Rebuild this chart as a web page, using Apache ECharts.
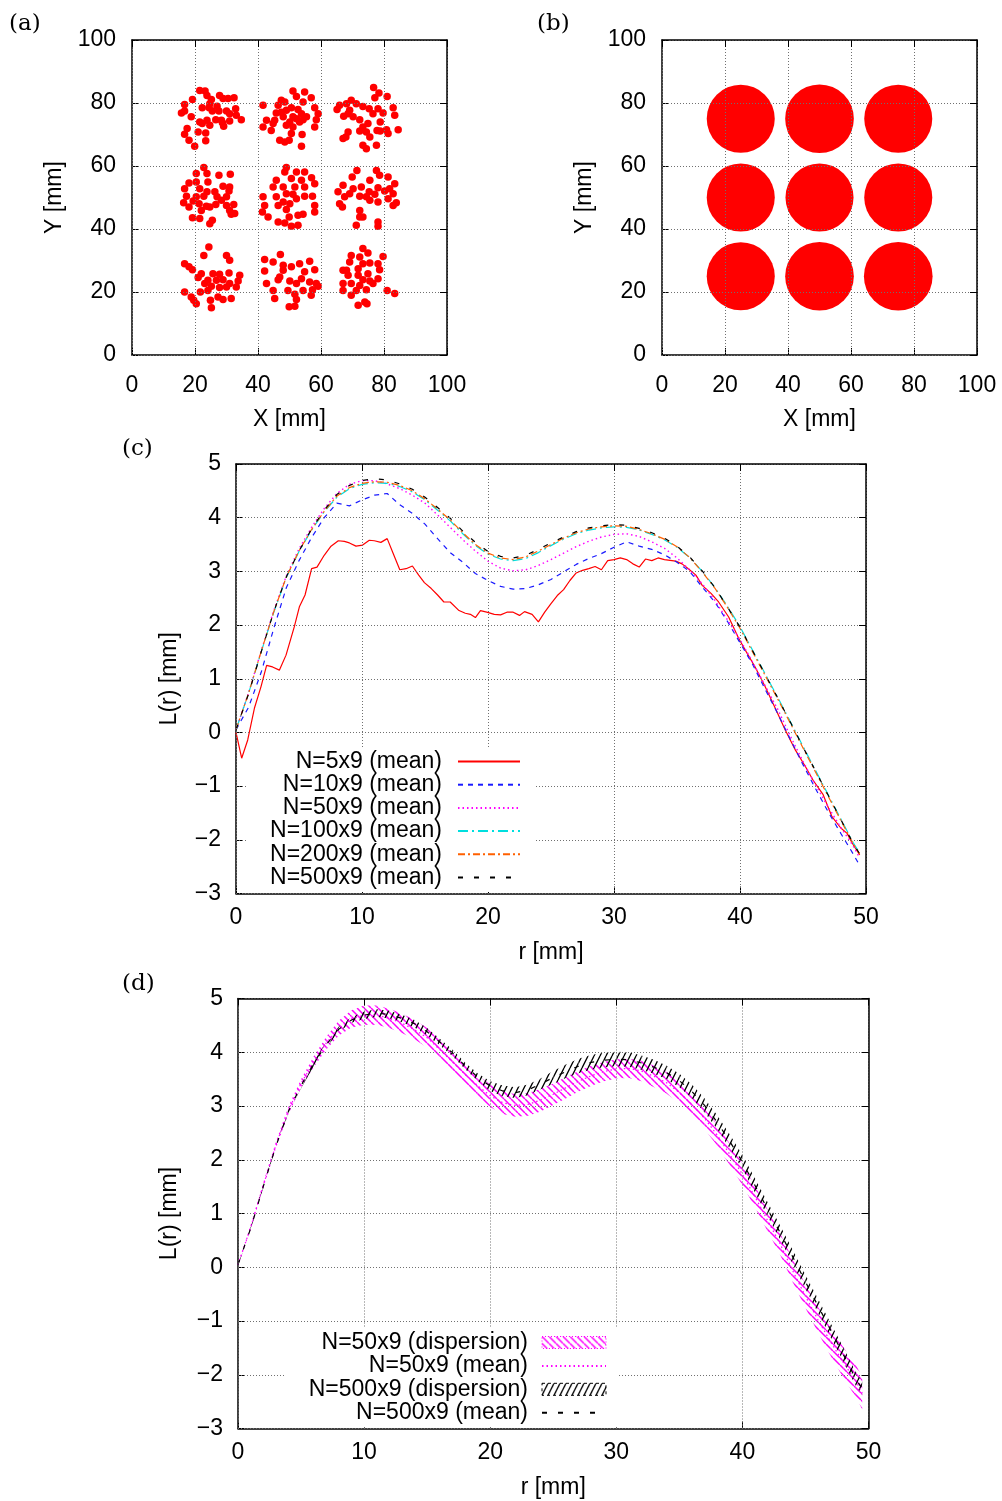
<!DOCTYPE html>
<html><head><meta charset="utf-8">
<script src="https://cdn.jsdelivr.net/npm/echarts@6/dist/echarts.min.js"></script>
<style>html,body{margin:0;padding:0;background:#fff}#c{width:1002px;height:1501px}</style>
</head><body><div id="c"></div>
<script>
// ---------- panel (a): N=50x9 points [x mm, y mm] ----------
const aTop = [[21.5,84.0],[23.2,83.8],[23.8,82.4],[19.2,81.1],[27.8,82.4],[28.9,81.4],[30.5,81.4],[32.4,81.7],[25.2,81.1],[24.7,79.8],[16.7,79.5],[22.3,78.5],[24.5,78.5],[27.0,79.0],[25.5,77.5],[15.7,76.8],[16.7,77.5],[18.8,75.6],[30.0,77.5],[32.9,78.2],[33.1,76.1],[21.5,74.0],[23.8,74.5],[26.6,74.7],[28.7,73.7],[31.0,74.3],[34.7,74.7],[29.1,72.6],[17.5,71.9],[22.3,73.5],[16.7,70.1],[21.0,70.8],[23.4,70.5],[18.1,68.2],[23.4,68.0],[19.9,66.3],[27.6,77.5],[31.0,76.6],[24.7,72.9],[28.4,74.5],
 [51.1,83.8],[54.8,83.5],[52.2,82.1],[56.9,81.7],[47.4,80.9],[48.5,80.3],[54.3,80.3],[41.6,79.3],[46.4,79.3],[58.0,78.5],[50.6,78.5],[52.7,77.9],[49.0,77.7],[45.8,76.8],[53.8,76.6],[59.1,76.6],[42.7,74.5],[45.3,74.5],[48.0,75.6],[51.1,75.6],[52.2,75.0],[54.3,74.7],[58.5,74.7],[53.2,74.0],[44.8,73.5],[50.1,74.0],[41.6,72.4],[51.1,72.4],[58.0,72.4],[44.2,71.3],[50.6,70.3],[54.0,70.0],[46.9,68.2],[48.5,67.6],[49.9,68.2],[53.8,66.3],[49.0,72.9],[55.4,75.6],[47.4,77.1],
 [76.7,84.9],[78.4,83.2],[77.1,81.7],[81.0,82.1],[69.6,80.9],[71.2,79.8],[65.9,79.3],[68.1,79.8],[73.3,78.9],[75.3,78.2],[78.1,78.2],[82.9,78.5],[65.1,77.9],[68.6,76.6],[67.2,75.8],[70.2,75.6],[76.5,76.6],[79.7,76.8],[83.4,76.1],[72.3,74.7],[74.9,73.5],[78.8,74.0],[73.3,72.4],[77.8,71.3],[78.8,71.1],[80.8,71.5],[84.5,71.5],[74.4,70.8],[68.6,70.8],[67.9,69.2],[67.0,68.7],[81.3,70.3],[75.5,69.2],[73.3,66.6],[74.4,65.5],[77.6,66.6],[72.3,71.1],[69.1,77.7]];
const aMid = [[22.8,59.5],[20.4,57.6],[23.8,57.6],[27.6,57.1],[31.2,57.4],[18.1,54.6],[20.4,54.9],[24.1,54.9],[28.9,53.6],[31.0,53.3],[16.7,52.8],[21.5,52.8],[23.8,51.8],[26.3,51.8],[17.3,50.4],[20.4,50.2],[22.8,50.4],[27.0,50.2],[30.0,50.2],[30.8,52.1],[16.4,48.3],[19.4,48.9],[21.3,48.0],[23.6,47.2],[24.7,47.0],[26.6,47.8],[30.0,47.5],[32.3,47.8],[18.1,47.0],[31.0,45.9],[31.5,44.7],[32.6,44.9],[19.2,43.6],[21.5,43.3],[25.5,42.8],[24.7,41.7],[28.4,49.1],[22.0,45.9],
 [49.0,59.5],[48.5,58.1],[52.2,58.1],[54.8,58.1],[45.8,55.5],[50.6,56.0],[53.8,55.5],[57.0,56.3],[58.0,54.4],[44.8,53.3],[48.0,53.3],[51.7,53.3],[54.8,53.3],[49.0,51.2],[51.1,51.0],[45.8,50.2],[54.8,50.4],[57.3,50.4],[41.6,50.2],[42.1,47.5],[48.0,48.6],[50.1,48.0],[49.0,46.2],[58.0,47.5],[58.0,45.4],[41.4,45.4],[43.2,43.8],[46.4,42.2],[48.5,41.9],[50.6,40.9],[52.7,41.2],[54.3,44.7],[52.7,44.4],[49.9,43.8],[52.2,49.6],[46.4,47.5],
 [71.4,58.6],[77.6,58.6],[78.6,57.1],[81.3,56.5],[69.9,56.5],[75.5,55.5],[67.0,53.9],[70.2,52.8],[72.8,53.3],[78.1,53.1],[81.8,52.8],[83.4,54.4],[65.4,51.8],[69.1,51.2],[72.3,50.4],[75.3,51.8],[77.1,51.0],[80.2,52.1],[82.9,51.2],[67.5,50.2],[75.5,49.1],[78.1,48.6],[81.3,49.6],[65.9,48.0],[66.8,47.0],[72.3,45.9],[83.9,48.3],[82.9,47.5],[73.3,43.8],[72.3,43.8],[78.1,42.2],[71.2,41.2],[78.1,40.9],[74.4,50.2]];
const aBot = [[24.4,34.3],[22.8,31.6],[30.0,31.6],[31.0,30.1],[16.7,29.0],[18.1,28.0],[19.2,27.1],[22.0,25.8],[25.7,25.8],[27.8,25.6],[30.8,26.0],[34.2,25.3],[24.1,23.7],[26.8,23.7],[28.9,23.9],[31.0,22.7],[21.0,24.6],[23.1,22.7],[33.7,23.5],[25.2,21.8],[27.8,21.4],[30.0,21.6],[16.7,20.0],[21.7,20.0],[24.1,20.5],[33.1,21.6],[18.8,18.4],[19.6,17.4],[24.9,17.4],[27.3,18.4],[31.5,17.9],[20.4,16.3],[25.2,15.0],[28.9,17.6],
 [47.1,31.9],[42.1,30.3],[44.8,29.5],[48.0,28.5],[56.4,29.8],[53.2,29.0],[50.6,28.0],[58.0,27.1],[42.1,26.7],[54.8,26.4],[46.9,24.8],[50.1,23.5],[53.8,24.2],[56.4,23.2],[58.5,22.7],[42.7,22.7],[46.4,23.9],[52.2,22.7],[44.8,20.5],[49.5,20.5],[54.3,20.5],[57.3,20.7],[51.7,19.3],[45.3,17.9],[52.2,17.6],[56.9,19.0],[49.9,15.3],[51.7,15.5],[59.1,21.8],[48.0,26.9],
 [73.3,33.8],[74.9,32.4],[69.6,31.6],[72.3,31.1],[79.7,31.3],[69.1,29.5],[73.3,29.0],[75.5,29.2],[78.1,29.0],[67.0,26.9],[71.8,27.4],[78.6,27.1],[68.6,25.3],[71.8,25.3],[74.9,25.8],[75.5,23.5],[78.1,24.2],[67.0,22.7],[69.6,22.7],[72.3,22.1],[73.3,23.9],[67.0,20.5],[71.2,20.5],[74.4,20.7],[81.0,20.5],[83.4,19.5],[69.6,19.0],[73.9,16.8],[71.8,15.8],[74.6,16.3],[68.1,26.9],[76.5,22.7]];

// ---------- panel (b): N=500x9, dense discs (centre x, centre y, radius in mm) ----------
const discX = [25, 50, 75, 25, 50, 75, 25, 50, 75];
const discY = [75, 75, 75, 50, 50, 50, 25, 25, 25];
const discR = [10.8, 10.9, 10.8, 10.8, 10.8, 10.8, 10.8, 10.9, 10.9];

// ---------- panels (c),(d): L(r) ----------
const rGrid = [0,1,2,3,4,5,6,7,8,9,10,11,12,13,14,15,16,17,18,19,20,21,22,23,24,25,26,27,28,29,30,31,32,33,34,35,36,37,38,39,40,41,42,43,44,45,46,47,48,49,49.5];
const L10  = [0.05,0.47,1.12,1.94,2.70,3.20,3.63,4.00,4.27,4.22, 4.33,4.42,4.45,4.24,4.08,3.88,3.61,3.35,3.17,2.96, 2.83,2.72,2.67,2.68,2.75,2.85,2.99,3.13,3.24,3.33, 3.45,3.55,3.47,3.41,3.31,3.17,3.00,2.71,2.43,2.07, 1.67,1.27,0.80,0.35,-0.13,-0.60,-1.05,-1.48,-1.88,-2.27,-2.48];
const L50  = [0.05,0.74,1.52,2.27,2.92,3.42,3.82,4.17,4.45,4.62, 4.69,4.69,4.63,4.54,4.42,4.27,4.05,3.82,3.59,3.38, 3.19,3.06,3.01,3.03,3.11,3.22,3.34,3.46,3.56,3.64, 3.69,3.70,3.65,3.55,3.43,3.25,3.03,2.77,2.46,2.10, 1.73,1.31,0.87,0.43,-0.07,-0.54,-0.98,-1.39,-1.77,-2.12,-2.34];
const L100 = [0.05,0.73,1.50,2.24,2.89,3.37,3.77,4.11,4.38,4.54, 4.62,4.65,4.64,4.58,4.48,4.33,4.14,3.94,3.70,3.48, 3.32,3.23,3.20,3.24,3.35,3.48,3.60,3.70,3.77,3.81, 3.83,3.82,3.77,3.69,3.59,3.45,3.26,3.00,2.70,2.35, 1.97,1.53,1.09,0.65,0.20,-0.26,-0.71,-1.16,-1.61,-2.06,-2.25];
const L200 = [0.05,0.73,1.51,2.25,2.90,3.38,3.78,4.12,4.40,4.56, 4.64,4.67,4.66,4.60,4.50,4.35,4.16,3.96,3.72,3.50, 3.34,3.25,3.22,3.27,3.38,3.50,3.62,3.72,3.79,3.83, 3.85,3.84,3.78,3.70,3.60,3.46,3.26,2.99,2.69,2.33, 1.94,1.50,1.06,0.62,0.17,-0.29,-0.74,-1.19,-1.64,-2.08,-2.27];
const L500 = [0.05,0.72,1.50,2.25,2.90,3.38,3.79,4.14,4.43,4.60, 4.69,4.73,4.70,4.63,4.53,4.38,4.19,3.99,3.75,3.54, 3.37,3.28,3.25,3.30,3.41,3.53,3.64,3.74,3.81,3.85, 3.87,3.86,3.80,3.72,3.62,3.47,3.27,3.01,2.70,2.34, 1.96,1.52,1.08,0.64,0.19,-0.27,-0.72,-1.17,-1.62,-2.08,-2.26];
const rRed = [0,0.45,0.93,1.46,1.98,2.43,2.9,3.44,3.97,4.63,5.03,5.48,6.0,6.43,7.0,7.54,8.12,8.6,9.0,9.52,10.05,10.58,10.98,11.5,12.0,12.5,13.0,13.5,14.0,14.5,14.95,15.5,16.0,16.5,17.0,17.7,18.2,18.6,19.0,19.4,19.9,20.5,21.0,21.5,22.0,22.5,22.9,23.5,24.0,24.5,25.0,25.5,26.0,26.5,27.0,27.5,28.0,28.5,29.0,29.5,30.0,30.5,31.0,31.5,32.0,32.5,33.0,33.5,34.0,34.9,35.4,35.9,36.5,37.0,37.7,38.3,39.1,39.9,40.5,41.2,42.0,42.8,43.6,44.4,45.2,45.8,46.6,47.3,48.0,48.5,48.9,49.5];
const L5   = [0.0,-0.48,-0.14,0.45,0.85,1.25,1.22,1.16,1.44,1.97,2.34,2.56,3.05,3.08,3.30,3.47,3.57,3.56,3.53,3.47,3.49,3.58,3.57,3.54,3.61,3.32,3.03,3.05,3.10,2.93,2.79,2.68,2.56,2.43,2.43,2.27,2.22,2.20,2.14,2.27,2.24,2.20,2.19,2.24,2.24,2.18,2.25,2.20,2.06,2.24,2.40,2.55,2.66,2.83,2.97,3.02,3.05,3.09,3.03,3.20,3.22,3.25,3.22,3.14,3.08,3.23,3.20,3.25,3.22,3.19,3.14,3.05,2.93,2.74,2.59,2.43,2.15,1.75,1.50,1.22,0.85,0.45,0.04,-0.33,-0.64,-0.89,-1.16,-1.57,-1.78,-1.88,-2.06,-2.28];
// dispersion bands of panel (d)
const hi50  = [0.07,0.78,1.57,2.33,2.99,3.50,3.92,4.29,4.59,4.78, 4.87,4.87,4.81,4.72,4.60,4.45,4.23,4.01,3.79,3.58, 3.40,3.27,3.22,3.24,3.32,3.42,3.54,3.65,3.75,3.82, 3.87,3.88,3.84,3.75,3.63,3.45,3.23,2.97,2.66,2.30, 1.93,1.51,1.07,0.63,0.14,-0.32,-0.74,-1.13,-1.49,-1.82,-2.04];
const lo50  = [0.03,0.70,1.47,2.21,2.85,3.34,3.72,4.05,4.31,4.46, 4.51,4.51,4.45,4.36,4.24,4.09,3.87,3.63,3.39,3.18, 2.98,2.85,2.80,2.82,2.90,3.02,3.14,3.27,3.37,3.46, 3.51,3.52,3.46,3.35,3.23,3.05,2.83,2.57,2.26,1.90, 1.53,1.11,0.67,0.23,-0.28,-0.76,-1.22,-1.65,-2.05,-2.42,-2.64];
const hi500 = [0.07,0.74,1.52,2.27,2.92,3.43,3.84,4.19,4.48,4.65, 4.76,4.80,4.77,4.70,4.60,4.45,4.25,4.05,3.81,3.61, 3.46,3.38,3.35,3.40,3.51,3.65,3.77,3.88,3.95,3.99, 4.01,4.00,3.94,3.86,3.75,3.60,3.40,3.14,2.83,2.47, 2.09,1.65,1.21,0.77,0.32,-0.14,-0.59,-1.04,-1.49,-1.95,-2.13];
const lo500 = [0.03,0.70,1.48,2.23,2.88,3.33,3.74,4.09,4.38,4.55, 4.62,4.66,4.63,4.56,4.46,4.31,4.13,3.93,3.69,3.47, 3.28,3.18,3.15,3.20,3.31,3.41,3.52,3.61,3.68,3.72, 3.74,3.73,3.67,3.60,3.50,3.35,3.15,2.88,2.57,2.21, 1.83,1.39,0.95,0.51,0.06,-0.40,-0.85,-1.30,-1.75,-2.21,-2.37];

const namesC = ['N=5x9 (mean)','N=10x9 (mean)','N=50x9 (mean)','N=100x9 (mean)','N=200x9 (mean)','N=500x9 (mean)'];
const namesD = ['N=50x9 (dispersion)','N=50x9 (mean)','N=500x9 (dispersion)','N=500x9 (mean)'];

// ---------- helpers ----------
const FONT = '"Liberation Sans", Arial, Helvetica, sans-serif';
const FS = 23;
const GRIDC = '#707070';
function hatch(color, w, h, dir, lw) {
  const c = document.createElement('canvas'); c.width = w; c.height = h;
  const g = c.getContext('2d'); g.strokeStyle = color; g.lineWidth = lw;
  g.beginPath();
  for (const k of [-1, 0, 1]) {
    if (dir === 'back') { g.moveTo(k * w, 0); g.lineTo(k * w + w, h); }
    else { g.moveTo(k * w, h); g.lineTo(k * w + w, 0); }
  }
  g.stroke();
  return { image: c, repeat: 'repeat' };
}
const patM = hatch('#ff00ff', 7, 7, 'back', 1.5);
const patK = hatch('#000000', 6, 12, 'fwd', 1.3);

function lbl(margin) {
  return { show: true, margin, color: '#000', fontSize: FS, fontFamily: FONT,
    showMinLabel: true, showMaxLabel: true, formatter: v => String(v).replace('-', '\u2212') };
}
function base() {
  return { type: 'value',
    axisLine: { show: true, onZero: false, lineStyle: { color: '#000', width: 1.5 } },
    axisTick: { show: true, inside: true, length: 7, lineStyle: { color: '#000', width: 1 } },
    splitLine: { show: false },
    nameTextStyle: { color: '#000', fontSize: FS, fontFamily: FONT } };
}
const gridLine = { show: true, lineStyle: { color: GRIDC, width: 1, type: [1, 2] } };
function axes(gi, dim, min, max, interval, name, nameGap, margin) {
  const main = Object.assign(base(), { gridIndex: gi, position: dim === 'x' ? 'bottom' : 'left',
    min, max, interval, name, nameLocation: 'middle', nameGap, axisLabel: lbl(margin) });
  const mir = Object.assign(base(), { gridIndex: gi, position: dim === 'x' ? 'top' : 'right',
    min, max, interval, axisLabel: { show: false }, splitLine: gridLine, zlevel: 1, z: 3 });
  return [main, mir];
}
const pairs = (xs, ys) => xs.map((x, i) => [x, ys[i]]);
function meanLine(name, ax, ys, color, width, dash, xs) {
  return { name, type: 'line', xAxisIndex: ax, yAxisIndex: ax, data: pairs(xs || rGrid, ys),
    symbol: 'none', showSymbol: false, smooth: false, silent: true,
    itemStyle: { color }, lineStyle: { color, width, type: dash } };
}
function band(name, lo, hi, color, pat) {
  return { name, type: 'custom', xAxisIndex: 6, yAxisIndex: 6, silent: true,
    itemStyle: { color },
    data: rGrid.map((r, i) => [r, lo[i], hi[i]]),
    encode: { x: 0, y: [1, 2] },
    renderItem: (params, api) => {
      const i = params.dataIndexInside;
      if (i >= params.dataInsideLength - 1) return null;
      const pts = [
        api.coord([api.value(0, i), api.value(1, i)]),
        api.coord([api.value(0, i + 1), api.value(1, i + 1)]),
        api.coord([api.value(0, i + 1), api.value(2, i + 1)]),
        api.coord([api.value(0, i), api.value(2, i)])
      ];
      return { type: 'polygon', shape: { points: pts }, style: { fill: pat } };
    } };
}
const hideSym = { opacity: 0 };

const chart = echarts.init(document.getElementById('c'), null, { renderer: 'canvas' });
const option = {
  animation: false,
  backgroundColor: '#fff',
  grid: [
    { left: 132, top: 40, width: 315, height: 315 },
    { left: 662, top: 40, width: 315, height: 315 },
    { left: 236, top: 464, width: 630, height: 429.5 },
    { left: 238, top: 998.5, width: 630.5, height: 430 }
  ],
  xAxis: [
    ...axes(0, 'x', 0, 100, 20, 'X [mm]', 53, 19),
    ...axes(1, 'x', 0, 100, 20, 'X [mm]', 53, 19),
    ...axes(2, 'x', 0, 50, 10, 'r [mm]', 48, 13),
    ...axes(3, 'x', 0, 50, 10, 'r [mm]', 48, 13)
  ],
  yAxis: [
    ...axes(0, 'y', 0, 100, 20, 'Y [mm]', 66, 16),
    ...axes(1, 'y', 0, 100, 20, 'Y [mm]', 66, 16),
    ...axes(2, 'y', -3, 5, 1, 'L(r) [mm]', 55, 15),
    ...axes(3, 'y', -3, 5, 1, 'L(r) [mm]', 57, 15)
  ],
  legend: [
    { orient: 'vertical', right: 468, top: 747, align: 'right', itemWidth: 62, itemHeight: 14, itemGap: 0.2,
      padding: [3, 13, 3, 23], backgroundColor: '#fff', selectedMode: false, zlevel: 1, z: 4,
      textStyle: { fontSize: FS, fontFamily: FONT, color: '#000', rich: { g: { width: 11 } } },
      formatter: n => n + '{g|}',
      data: namesC.map(n => ({ name: n, itemStyle: hideSym })) },
    { orient: 'vertical', right: 384, top: 1328, align: 'right', itemWidth: 64, itemHeight: 12, itemGap: 0.4,
      padding: [3, 11, 3, 23], backgroundColor: '#fff', selectedMode: false, zlevel: 1, z: 4,
      textStyle: { fontSize: FS, fontFamily: FONT, color: '#000', rich: { g: { width: 9 } } },
      formatter: n => n + '{g|}',
      data: [
        { name: namesD[0], icon: 'rect', itemStyle: { color: patM, borderColor: '#ff00ff', borderWidth: 1, borderType: [1, 2] } },
        { name: namesD[1], itemStyle: hideSym },
        { name: namesD[2], icon: 'rect', itemStyle: { color: patK, borderColor: '#000', borderWidth: 1, borderType: [3, 3] } },
        { name: namesD[3], itemStyle: hideSym }
      ] }
  ],
  graphic: [
    { type: 'text', left: 9, top: 13, style: { text: '(a)', fill: '#000', font: '23px "DejaVu Serif", serif' } },
    { type: 'text', left: 537, top: 13, style: { text: '(b)', fill: '#000', font: '23px "DejaVu Serif", serif' } },
    { type: 'text', left: 122, top: 438, style: { text: '(c)', fill: '#000', font: '23px "DejaVu Serif", serif' } },
    { type: 'text', left: 122, top: 973, style: { text: '(d)', fill: '#000', font: '23px "DejaVu Serif", serif' } }
  ],
  series: [
    { type: 'scatter', xAxisIndex: 0, yAxisIndex: 0, data: [...aTop, ...aMid, ...aBot],
      symbol: 'circle', symbolSize: 7.5, silent: true, itemStyle: { color: '#ff0000', opacity: 1 } },
    { type: 'custom', xAxisIndex: 2, yAxisIndex: 2, silent: true,
      data: discX.map((x, i) => [x, discY[i], discR[i]]),
      renderItem: (params, api) => {
        const c = api.coord([api.value(0), api.value(1)]);
        const s = api.size([api.value(2), api.value(2)]);
        return { type: 'circle', shape: { cx: c[0], cy: c[1], r: s[0] }, style: { fill: '#ff0000' } };
      } },
    // panel (c)
    meanLine(namesC[0], 4, L5, '#ff0000', 1.2, 'solid', rRed),
    meanLine(namesC[1], 4, L10, '#1a1aff', 1.2, [5, 5]),
    meanLine(namesC[2], 4, L50, '#ff00ff', 1.4, [1.5, 3]),
    meanLine(namesC[3], 4, L100, '#00dede', 1.2, [10, 4, 2, 4]),
    meanLine(namesC[4], 4, L200, '#ff6000', 1.2, [7, 3, 2, 3]),
    meanLine(namesC[5], 4, L500, '#000000', 1.2, [5, 11]),
    // panel (d)
    band(namesD[0], lo50, hi50, '#ff00ff', patM),
    band(namesD[2], lo500, hi500, '#000000', patK),
    meanLine(namesD[1], 6, L50, '#ff00ff', 1.2, [1.5, 3]),
    meanLine(namesD[3], 6, L500, '#000000', 1.2, [5, 11])
  ]
};
chart.setOption(option);
</script>
</body></html>
